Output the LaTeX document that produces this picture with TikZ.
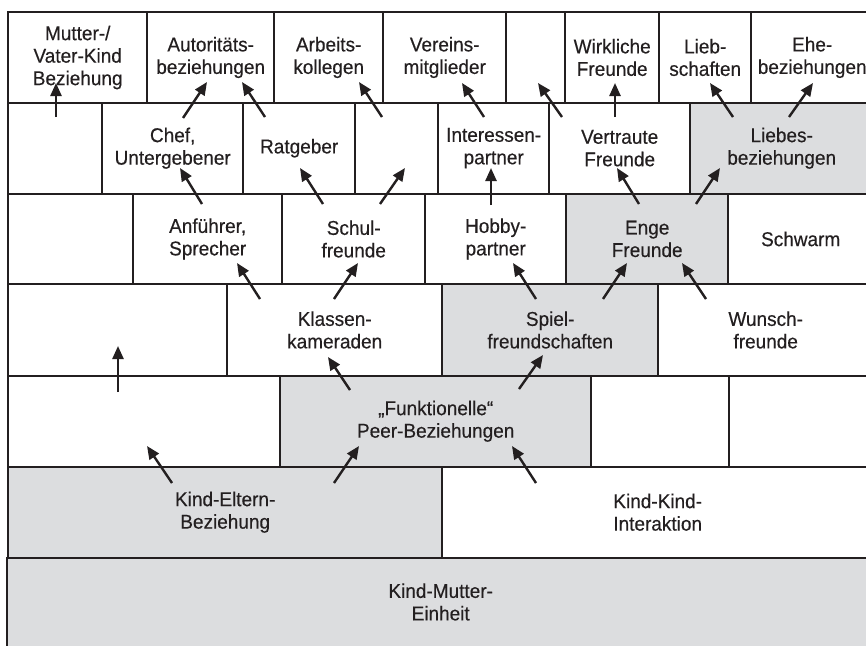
\documentclass[tikz,border=0pt]{standalone}
\usepackage{fontspec}
\setmainfont{Liberation Sans}[FakeStretch=0.95,FakeBold=0.35]
\usetikzlibrary{arrows.meta}
\definecolor{ink}{RGB}{35,31,32}
\definecolor{shade}{RGB}{220,221,223}
% one brick of the wall: name, left x, right x, top y, height, text, extra style
\newcommand\brick[7]{%
  \node[cell,#7,minimum width={(#3-#2)*1pt},minimum height={#5*1pt}] (#1) at (#2,#4) {#6};}
\begin{document}
\begin{tikzpicture}[x=1pt,y=-1pt,
  cell/.style={draw=ink,line width=2.4pt,fill=white,anchor=north west,inner sep=0pt,
    align=center,text=ink,font=\fontsize{20}{22.5}\selectfont},
  grey/.style={fill=shade},
  frame/.style={draw=ink,line width=2.4pt},
  link/.style={draw=ink,line width=2.4pt,-{Triangle[length=13pt,width=11pt]}}]
\useasboundingbox (0,0) rectangle (866,645);
\clip (0,0) rectangle (866,645);

% base row
\brick{km}{7}{872}{556.5}{88.5}{Kind-Mutter-\\Einheit}{grey,draw=none}
\draw[frame] (km.north west) -- (km.south west);

% row 6
\brick{ke}{7}{441}{465.5}{91}{Kind-Eltern-\\Beziehung}{grey}
\brick{kk}{441}{872}{465.5}{91}{Kind-Kind-\\Interaktion}{}

% row 5
\brick{e5a}{7}{279}{374.5}{91}{}{}
\brick{fp}{279}{590}{374.5}{91}{„Funktionelle“\\Peer-Beziehungen}{grey}
\brick{e5b}{590}{728}{374.5}{91}{}{}
\brick{e5c}{728}{872}{374.5}{91}{}{}

% row 4
\brick{e4a}{7}{226}{283}{91.5}{}{}
\brick{kl}{226}{441}{283}{91.5}{Klassen-\\kameraden}{}
\brick{sp}{441}{657}{283}{91.5}{Spiel-\\freundschaften}{grey}
\brick{wu}{657}{872}{283}{91.5}{Wunsch-\\freunde}{}

% row 3
\brick{e3a}{7}{132}{192.5}{90.5}{}{}
\brick{an}{132}{281}{192.5}{90.5}{Anführer,\\Sprecher}{}
\brick{sf}{281}{424}{192.5}{90.5}{Schul-\\freunde}{}
\brick{ho}{424}{565}{192.5}{90.5}{Hobby-\\partner}{}
\brick{en}{565}{727}{192.5}{90.5}{Enge\\Freunde}{grey}
\brick{sw}{727}{872}{192.5}{90.5}{Schwarm}{}

% row 2
\brick{e2a}{7}{101}{101.5}{91}{}{}
\brick{ch}{101}{242}{101.5}{91}{Chef,\\Untergebener}{}
\brick{ra}{242}{354}{101.5}{91}{Ratgeber}{}
\brick{e2b}{354}{437}{101.5}{91}{}{}
\brick{ip}{437}{548}{101.5}{91}{Interessen-\\partner}{}
\brick{vf}{548}{689}{101.5}{91}{Vertraute\\Freunde}{}
\brick{lb}{689}{872}{101.5}{91}{Liebes-\\beziehungen}{grey}

% row 1
\brick{mv}{7}{146}{11}{90.5}{Mutter-/\\Vater-Kind\\Beziehung}{}
\brick{au}{146}{273}{11}{90.5}{Autoritäts-\\beziehungen}{}
\brick{ak}{273}{382}{11}{90.5}{Arbeits-\\kollegen}{}
\brick{vm}{382}{505}{11}{90.5}{Vereins-\\mitglieder}{}
\brick{e1a}{505}{564}{11}{90.5}{}{}
\brick{wf}{564}{658}{11}{90.5}{Wirkliche\\Freunde}{}
\brick{ls}{658}{750}{11}{90.5}{Lieb-\\schaften}{}
\brick{eh}{750}{872}{11}{90.5}{Ehe-\\beziehungen}{}

% arrows: tail x / tail y / tip x / tip y
\foreach \tx/\ty/\hx/\hy [count=\i] in {
  56/117/56/83, 183/118/207/82, 265/117/242/82, 382/117/359/82,
  484/117/462/83, 562/117/538/83, 615/117/615/83, 733/117/710/83,
  789/117/813/83,
  202/204/180/168, 323/204/300/168, 380/204/405/168, 491/205/491/168,
  639/204/617/168, 696/204/720/168,
  260/299/237/263, 334/299/358/263, 536/299/513/263, 603/299/627/263,
  706/299/682/263,
  118/392/118/346, 350/390/328/357, 519/389/543/355,
  172/483/147/446, 334/483/359/446, 536/483/512/446} {
  \coordinate (t\i) at (\tx,\ty);
  \coordinate (h\i) at (\hx,\hy);
  \draw[link] (t\i) -- (h\i);
}
\end{tikzpicture}
\end{document}
